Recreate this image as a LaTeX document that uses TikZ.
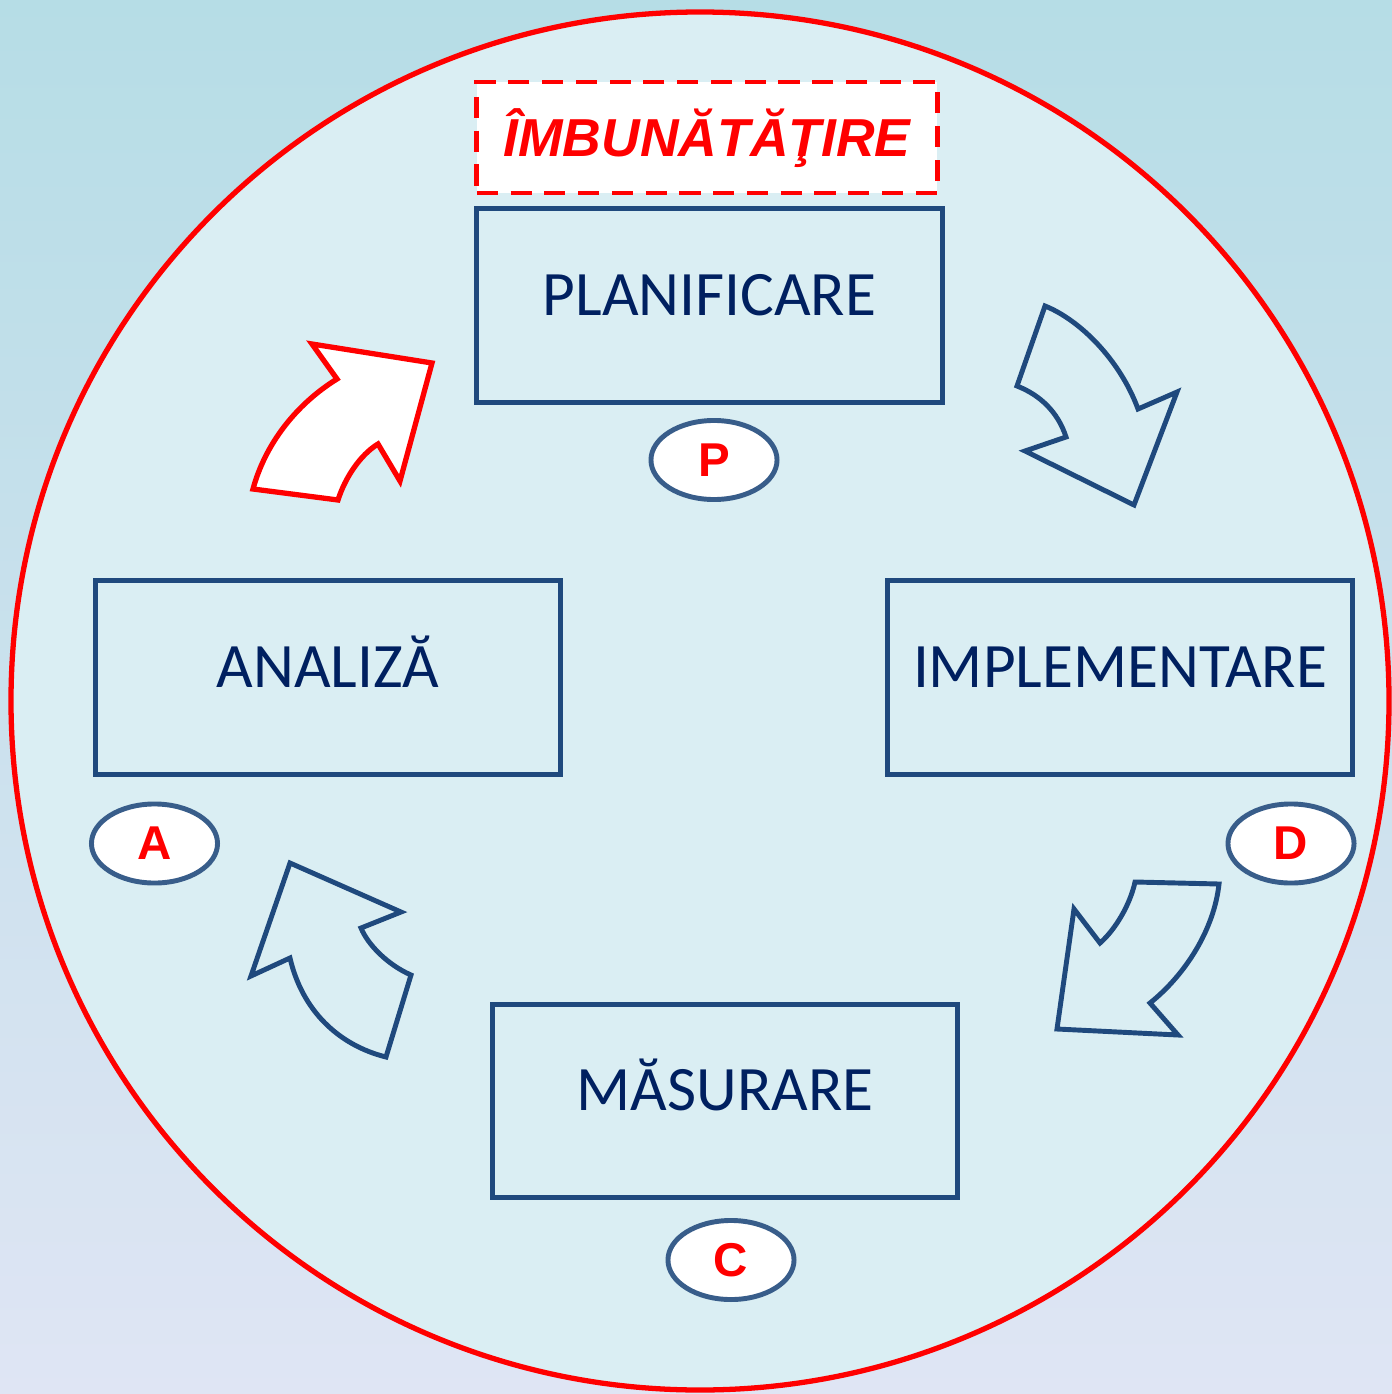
\documentclass[tikz,border=0pt]{standalone}
\usepackage{fontspec}
\setmainfont{Carlito}
\newfontfamily\arialfont{Liberation Sans}
\usetikzlibrary{shapes.geometric}
\definecolor{bgtop}{RGB}{182,221,230}
\definecolor{bgmid}{RGB}{198,214,237}
\definecolor{bgbottom}{RGB}{223,229,244}
\definecolor{disc}{RGB}{218,238,243}
\definecolor{boxblue}{RGB}{31,73,125}
\definecolor{textnavy}{RGB}{0,32,96}
\definecolor{ovalblue}{RGB}{56,93,138}

\begin{document}
\begin{tikzpicture}[x=0.01cm, y=0.01cm,
	stepbox/.style={draw=boxblue, line width=1.4pt, minimum width=4.65cm,
		minimum height=1.93cm, text=textnavy, text height=0.644em, text depth=0.09em,
		font=\fontsize{18}{22}\selectfont},
	letter/.style={ellipse, draw=ovalblue, line width=1.4pt, fill=white,
		minimum width=1.26cm, minimum height=0.79cm, inner sep=0pt, text=red,
		font=\arialfont\bfseries\fontsize{13.5}{15}\selectfont},
	titlebox/.style={draw=red, fill=white, line width=1.4pt, dash pattern=on 6pt off 3.6pt,
		minimum width=4.6cm, minimum height=1.11cm, text=red, text height=1.07em, text depth=0pt,
		font=\arialfont\bfseries\itshape\fontsize{15.2}{18}\selectfont},
	bluearrow/.style={draw=boxblue, line width=1.4pt},
	redarrow/.style={draw=red, fill=white, line width=1.5pt}]
	\useasboundingbox (0,0) rectangle (1392,-1394);
	\shade[top color=bgtop, middle color=bgmid, bottom color=bgbottom] (0,0) rectangle (1392,-1394);
	\draw[red, line width=1.5pt, fill=disc] (700,-701) circle (689);

	\node[titlebox] (title) at (707,-137.5) {ÎMBUNĂTĂŢIRE};

	\node[stepbox] (plan) at (709.5,-305.5) {PLANIFICARE};
	\node[stepbox] (impl) at (1120,-677.5) {IMPLEMENTARE};
	\node[stepbox] (anal) at (328,-677.5) {ANALIZĂ};
	\node[stepbox] (meas) at (725,-1101) {MĂSURARE};

	\node[letter] (p) at (714,-460) {P};
	\node[letter] (d) at (1291,-843.5) {D};
	\node[letter] (a) at (154.5,-843.5) {A};
	\node[letter] (c) at (731,-1260) {C};

	\draw[redarrow] (253,-489) -- (338,-500) .. controls (345,-478) and (360,-455) .. (378,-444)
		-- (400,-481) -- (432,-363) -- (312,-344) -- (337,-379)
		.. controls (295,-405) and (265,-445) .. (253,-489) -- cycle;
	\draw[bluearrow] (1045,-306) .. controls (1080,-320) and (1120,-360) .. (1138,-409)
		-- (1177,-392) -- (1134,-505) -- (1025,-451) -- (1066,-437)
		.. controls (1058,-412) and (1040,-395) .. (1017,-386) -- cycle;
	\draw[bluearrow] (1135,-882) -- (1219,-884) .. controls (1214,-930) and (1185,-975) .. (1150,-1003)
		-- (1178,-1035) -- (1057,-1029) -- (1074,-909) -- (1100,-943)
		.. controls (1115,-930) and (1130,-905) .. (1135,-882) -- cycle;
	\draw[bluearrow] (290,-863) -- (401,-912) -- (361,-928) .. controls (368,-945) and (388,-965) .. (411,-975)
		-- (386,-1057) .. controls (338,-1045) and (302,-1010) .. (290,-958)
		-- (251,-976) -- cycle;
\end{tikzpicture}
\end{document}
